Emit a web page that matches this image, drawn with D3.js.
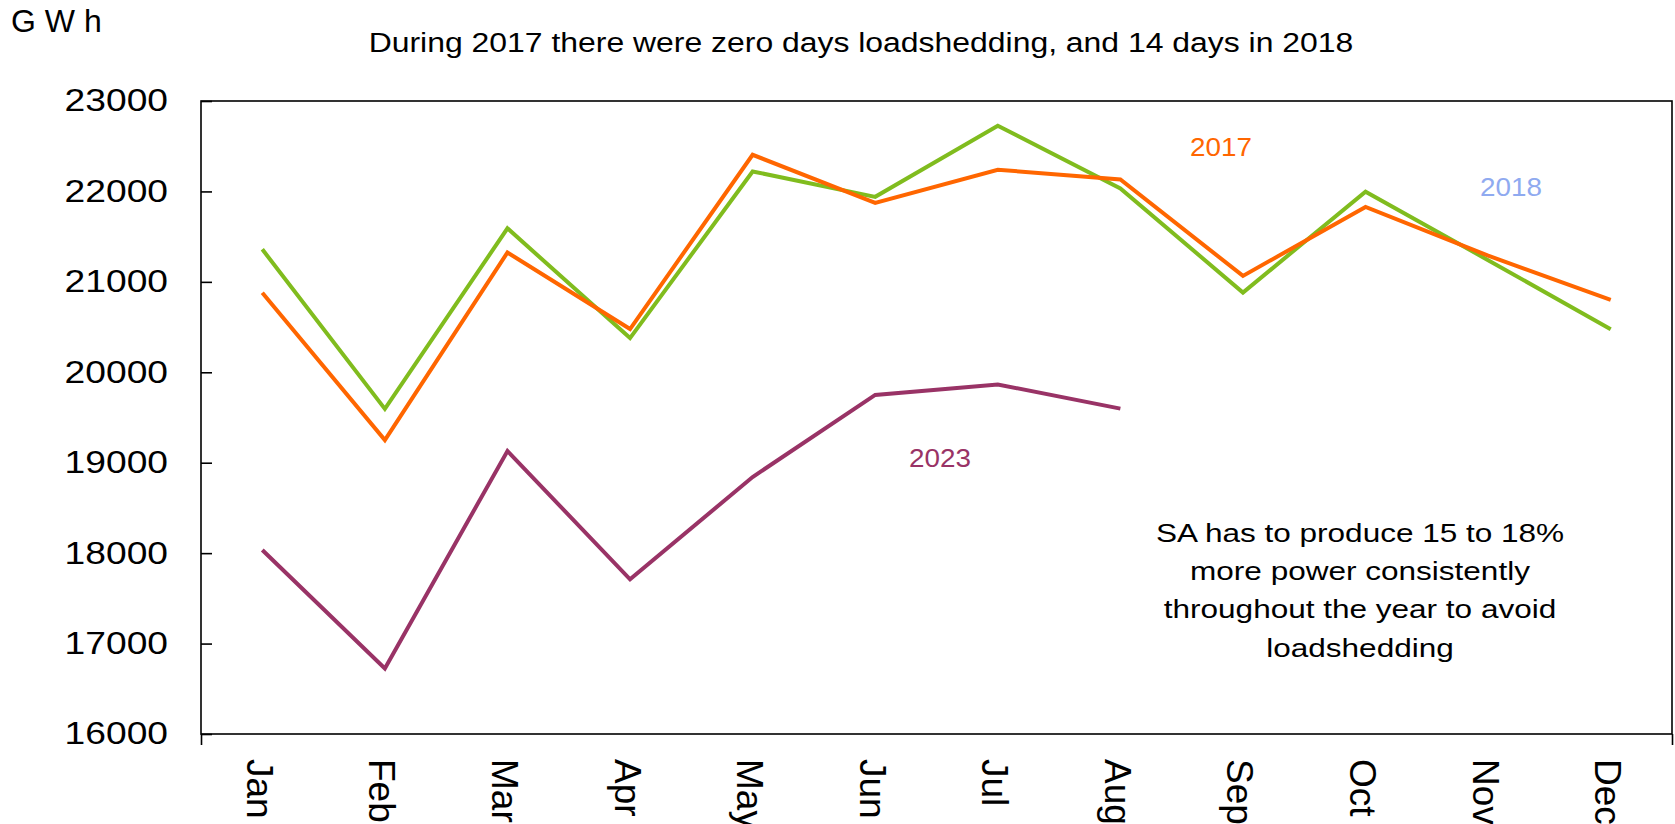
<!DOCTYPE html>
<html>
<head>
<meta charset="utf-8">
<script src="https://cdn.jsdelivr.net/npm/d3@7/dist/d3.min.js"></script>
<style>
  html, body { margin: 0; padding: 0; background: #fff; }
  svg text { font-family: "Liberation Sans", Arial, sans-serif; fill: #000; }
</style>
</head>
<body>
<div id="chart"></div>
<script>
// data (GWh per month)
var months = ["Jan", "Feb", "Mar", "Apr", "May", "Jun", "Jul", "Aug", "Sep", "Oct", "Nov", "Dec"];
var gwh2017 = [20880, 19250, 21325, 20478, 22405, 21873, 22240, 22132, 21066, 21828, 21290, 20800];
var gwh2018 = [21360, 19595, 21592, 20378, 22221, 21940, 22726, 22033, 20882, 21997, 21240, 20475];
var gwh2023 = [18035, 16725, 19130, 17710, 18842, 19750, 19865, 19598];
var yTicks = [16000, 17000, 18000, 19000, 20000, 21000, 22000, 23000];

var W = 1675, H = 824;
//plot box (note: "top" is taken by window.top, so p-prefixed names)
var pLeft = 201, pRight = 1672, pTop = 101, pBottom = 734;

var svg = d3.select("#chart").append("svg")
	.attr("width", W)
	.attr("height", H);

var x = d3.scalePoint()
	.domain(months)
	.range([pLeft, pRight])
	.padding(0.5);

var y = d3.scaleLinear()
	.domain([16000, 23000])
	.range([pBottom, pTop]);

//frame round the plot
svg.append("rect")
	.attr("x", pLeft)
	.attr("y", pTop)
	.attr("width", pRight - pLeft)
	.attr("height", pBottom - pTop)
	.attr("fill", "none")
	.attr("stroke", "#000")
	.attr("stroke-width", 1.6);

//y axis, ticks pointing inwards
var yAxis = svg.append("g")
	.attr("transform", "translate(" + pLeft + ",0)")
	.call(d3.axisLeft(y).tickValues(yTicks).tickFormat(d3.format("d"))
		.tickSizeInner(-11).tickSizeOuter(0).tickPadding(27.5));
yAxis.select(".domain").remove();
yAxis.selectAll("line").attr("stroke", "#000").attr("stroke-width", 1.6);
yAxis.selectAll("text")
	.attr("font-size", 31)
	.attr("font-family", "Liberation Sans, Arial, sans-serif")
	.attr("transform", "scale(1.2,1)");

//x axis: ticks only at the two ends
var xEdge = d3.scaleLinear().domain([0, 12]).range([pLeft, pRight]);
var xTicks = svg.append("g")
	.attr("transform", "translate(0," + pBottom + ")")
	.call(d3.axisBottom(xEdge).tickValues([0, 12]).tickSize(11).tickFormat(""));
xTicks.select(".domain").remove();
xTicks.selectAll("line").attr("stroke", "#000").attr("stroke-width", 1.6);

//month labels, rotated to read downwards
var xAxis = svg.append("g")
	.attr("transform", "translate(0," + pBottom + ")")
	.call(d3.axisBottom(x).tickSize(0));
xAxis.select(".domain").remove();
xAxis.selectAll("text")
	.attr("font-size", 37)
	.attr("font-family", "Liberation Sans, Arial, sans-serif")
	.attr("y", 0)
	.attr("dy", 0)
	.attr("text-anchor", "start")
	.attr("transform", "translate(-16,25) rotate(90)");

//lines
var line = d3.line()
	.x(function(d, i){ return x(months[i]); })
	.y(function(d){ return y(d); });

var series = [
	{ values: gwh2018, color: "#80BC1E" },
	{ values: gwh2017, color: "#FF6600" },
	{ values: gwh2023, color: "#993366" }
];

svg.selectAll("path.series")
	.data(series)
	.enter()
	.append("path")
	.attr("class", "series")
	.attr("d", function(d){ return line(d.values); })
	.attr("fill", "none")
	.attr("stroke", function(d){ return d.color; })
	.attr("stroke-width", 4)
	.attr("stroke-linejoin", "miter");

//texts; sx stretches them sideways like in the original
function label(txt, px, py, size, sx, color, anchor){
	svg.append("text")
		.attr("transform", "translate(" + px + "," + py + ") scale(" + sx + ",1)")
		.attr("text-anchor", anchor || "middle")
		.attr("font-size", size)
		.style("fill", color || "#000")
		.text(txt);
}

label("G W h", 11, 32, 32, 1, "#000", "start");
label("During 2017 there were zero days loadshedding, and 14 days in 2018", 861, 52, 28, 1.14);

label("2017", 1221, 156, 26.5, 1.05, "#FF6600");
label("2018", 1511, 196, 26.5, 1.05, "#8FAAF0");
label("2023", 940, 467, 26.5, 1.05, "#993366");

var note = ["SA has to produce 15 to 18%", "more power consistently", "throughout the year to avoid", "loadshedding"];
note.forEach(function(t, i){
	label(t, 1360, 541.7 + i * 38.3, 26.5, 1.19);
});
</script>
</body>
</html>
